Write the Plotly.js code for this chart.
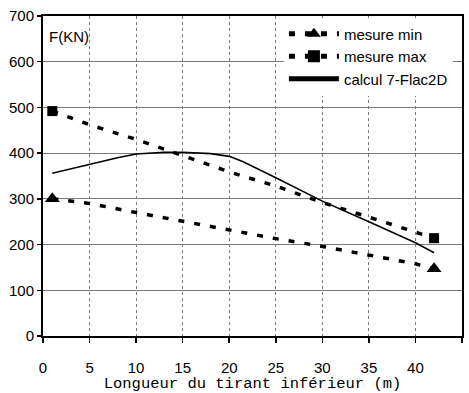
<!DOCTYPE html>
<html>
<head>
<meta charset="utf-8">
<script src="https://cdn.plot.ly/plotly-3.0.1.min.js"></script>
<style>html,body{margin:0;padding:0;background:#fff;}#chart{width:469px;height:393px;}</style>
</head>
<body>
<div id="chart"></div>
<script>
// Data
const minX = [1, 5, 10, 15, 20, 25, 30, 35, 40, 42];
const minY = [300, 290, 270, 251, 231, 213, 196, 177, 158, 147];
const maxX = [1, 5, 10, 15, 20, 25, 30, 35, 40, 42];
const maxY = [492, 462, 430, 394, 359, 328, 292, 260, 226, 214];
const calcX = [1, 5, 8, 10, 13, 15, 18, 20, 21.5, 25, 30, 35, 40, 42];
const calcY = [356, 376, 390, 398, 402, 402, 399, 393, 381, 346, 295, 250, 204, 182];
const xTicks = [0, 5, 10, 15, 20, 25, 30, 35, 40, 45];
const yTicks = [0, 100, 200, 300, 400, 500, 600, 700];
const names = ["mesure min", "mesure max", "calcul 7-Flac2D"];

function endSizes(arr, s) { return arr.map((v, i) => (i === 0 || i === arr.length - 1) ? s : 0); }

const FONT = "Liberation Sans, Arial, sans-serif";

const traces = [
  { x: minX, y: minY, name: names[0], mode: "lines+markers",
    line: { color: "#000", width: 3.5, dash: "6px,10px" },
    marker: { symbol: "triangle-up", color: "#000", opacity: 1, line: { width: 0 },
      size: endSizes(minX, 13) } },
  { x: maxX, y: maxY, name: names[1], mode: "lines+markers",
    line: { color: "#000", width: 3.5, dash: "6px,10px" },
    marker: { symbol: "square", color: "#000", opacity: 1, line: { width: 0 },
      size: endSizes(maxX, 10) } },
  { x: calcX, y: calcY, name: names[2], mode: "lines",
    line: { color: "#000", width: 1.6 } }
];

const layout = {
  width: 469, height: 393,
  margin: { l: 43, r: 7, t: 16, b: 57 },
  paper_bgcolor: "#fff", plot_bgcolor: "#fff",
  font: { family: FONT, size: 15, color: "#000" },
  showlegend: true,
  legend: { x: 0.575, y: 0.995, xanchor: "left", yanchor: "top",
    bgcolor: "#fff", borderwidth: 0, font: { family: FONT, size: 15 },
    itemsizing: "constant", itemwidth: 50, tracegroupgap: 0 },
  xaxis: {
    range: [0, 45], tickvals: xTicks, ticktext: xTicks.map(String),
    showline: true, linecolor: "#000", linewidth: 2, mirror: true,
    ticks: "outside", ticklen: 5, tickcolor: "#000", tickwidth: 1.5,
    ticklabelstandoff: 12,
    showgrid: true, gridcolor: "#7a7a7a", griddash: "dot", gridwidth: 1,
    zeroline: false,
    title: { text: "Longueur du tirant inférieur (m)", standoff: 0,
      font: { family: "Liberation Mono, Courier New, monospace", size: 15.5 } }
  },
  yaxis: {
    range: [0, 700], tickvals: yTicks, ticktext: yTicks.map(String),
    showline: true, linecolor: "#000", linewidth: 2, mirror: true,
    ticks: "outside", ticklen: 4, tickcolor: "#000", tickwidth: 1.5,
    showgrid: true, gridcolor: "#7a7a7a", gridwidth: 1,
    zeroline: false
  },
  shapes: [
    { type: "rect", layer: "between", xref: "paper", yref: "paper",
      x0: 0.542, x1: 0.993, y0: 0.712, y1: 0.994,
      fillcolor: "#fff", line: { width: 0 } }
  ],
  annotations: [
    { text: "F(KN)", xref: "paper", yref: "paper", x: 0.01, y: 0.935,
      xanchor: "left", yanchor: "middle", showarrow: false,
      font: { family: FONT, size: 15 } }
  ]
};

Plotly.newPlot("chart", traces, layout, { displayModeBar: false, staticPlot: true });
</script>
</body>
</html>
